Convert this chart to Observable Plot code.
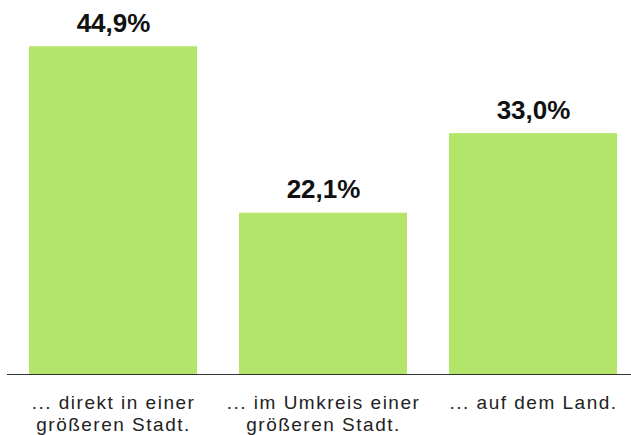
<!DOCTYPE html>
<html><head><meta charset="utf-8">
<script src="https://cdn.jsdelivr.net/npm/d3@7"></script>
<script src="https://cdn.jsdelivr.net/npm/@observablehq/plot@0.6"></script>
<style>body{margin:0;background:#fff;} svg{display:block;font-family:"Liberation Sans",Arial,sans-serif;}</style>
</head><body><div id="chart"></div>
<script>
const categories = ["... direkt in einer\ngrößeren Stadt.", "... im Umkreis einer\ngrößeren Stadt.", "... auf dem Land."];
const values = [44.9, 22.1, 33.0];
const valueLabels = ["44,9%", "22,1%", "33,0%"];
const data = categories.map((c, i) => ({cat: c, value: values[i], label: valueLabels[i]}));

const chart = Plot.plot({
  width: 631, height: 435,
  marginLeft: 7, marginRight: 0, marginTop: 9, marginBottom: 61,
  style: {fontFamily: '"Liberation Sans", Arial, sans-serif', background: "#fff"},
  x: {domain: categories, range: [8, 638], paddingInner: 0.2, paddingOuter: 0.1, axis: null},
  y: {domain: [0, 50], axis: null},
  marks: [
    Plot.barY(data, {x: "cat", y: "value", fill: "#b4e56b"}),
    Plot.ruleY([0], {stroke: "#333", strokeWidth: 1.2}),
    Plot.text(data, {x: "cat", y: "value", text: "label", lineAnchor: "bottom", dy: -15, fontSize: 26, fontWeight: "bold", fill: "#111"}),
    Plot.text(data, {x: "cat", y: () => 0, text: "cat", lineAnchor: "top", dy: 19, fontSize: 19, lineHeight: 1.16, fill: "#222"})
  ]
});
d3.select(chart).selectAll("text")
  .filter(function() { return this.textContent.startsWith("..."); })
  .attr("letter-spacing", "1.5")
  .style("letter-spacing", "1.5px");
document.getElementById("chart").appendChild(chart);
</script></body></html>
